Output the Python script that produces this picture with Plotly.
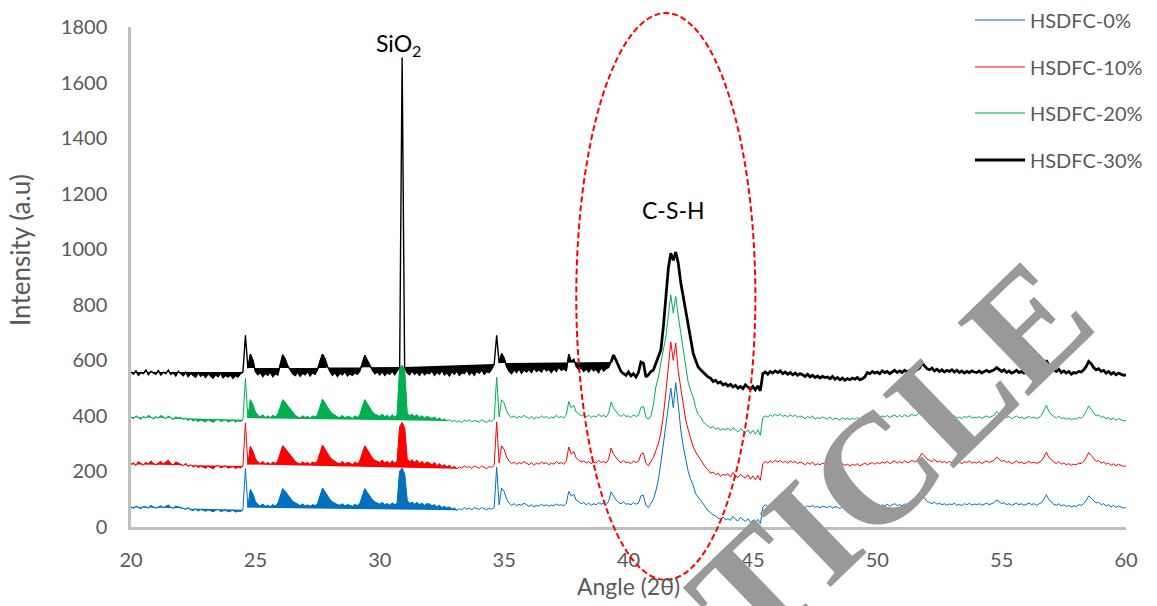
import numpy as np
import plotly.graph_objects as go

# 2-theta sampling grid (0.1 degree step)
angle = np.round(np.linspace(20, 60, 401), 1)

hsdfc_0 = [
    72, 68, 75, 70, 66, 74, 71, 69, 77, 73,
    68, 72, 76, 70, 74, 79, 71, 68, 75, 72,
    70, 66, 64, 69, 62, 60, 65, 58, 63, 61,
    57, 62, 59, 55, 60, 64, 56, 58, 61, 55,
    57, 60, 54, 58, 56, 62, 210, 70, 135, 118,
    92, 80, 76, 82, 74, 78, 73, 80, 76, 84,
    110, 138, 128, 118, 104, 92, 86, 80, 77, 82,
    76, 79, 74, 80, 77, 83, 112, 140, 126, 110,
    98, 90, 84, 80, 78, 83, 76, 80, 78, 74,
    81, 77, 84, 108, 138, 124, 110, 98, 90, 86,
    82, 88, 80, 84, 78, 86, 80, 84, 200, 212,
    190, 96, 84, 90, 82, 88, 80, 86, 78, 84,
    82, 76, 80, 72, 78, 70, 74, 68, 72, 64,
    68, 60, 66, 62, 70, 64, 68, 62, 70, 66,
    64, 70, 66, 62, 68, 64, 70, 215, 80, 140,
    128, 100, 86, 78, 84, 76, 82, 78, 86, 80,
    74, 80, 72, 78, 75, 82, 76, 80, 74, 79,
    76, 83, 78, 80, 76, 86, 128, 112, 118, 96,
    92, 84, 88, 80, 86, 78, 84, 80, 88, 82,
    86, 80, 92, 126, 110, 98, 88, 84, 90, 82,
    84, 80, 88, 82, 86, 112, 114, 78, 70, 84,
    100, 130, 170, 230, 300, 380, 430, 500, 430, 520,
    440, 350, 290, 240, 200, 170, 150, 120, 110, 96,
    84, 70, 58, 52, 44, 40, 32, 28, 36, 26,
    30, 24, 38, 28, 22, 34, 26, 20, 30, 16,
    24, 14, 28, 12, 72, 80, 74, 82, 76, 84,
    78, 84, 76, 80, 74, 82, 77, 80, 73, 79,
    75, 70, 76, 72, 78, 71, 74, 69, 75, 72,
    70, 76, 68, 73, 71, 66, 74, 69, 72, 67,
    73, 70, 75, 68, 72, 76, 70, 74, 78, 72,
    78, 74, 80, 76, 82, 75, 79, 84, 77, 81,
    76, 83, 78, 80, 85, 79, 82, 96, 112, 104,
    92, 88, 84, 90, 82, 86, 80, 84, 78, 83,
    80, 86, 78, 82, 77, 84, 80, 85, 79, 83,
    80, 84, 78, 82, 86, 80, 84, 88, 98, 90,
    84, 88, 80, 84, 78, 82, 86, 80, 84, 78,
    82, 86, 80, 84, 78, 82, 88, 100, 116, 98,
    88, 82, 78, 84, 76, 80, 74, 78, 72, 76,
    74, 80, 78, 84, 96, 112, 104, 94, 86, 90,
    80, 84, 76, 80, 72, 78, 70, 76, 72, 68,
    70,
]

hsdfc_10 = [
    226, 230, 222, 235, 228, 224, 232, 226, 238, 229,
    224, 231, 236, 227, 233, 240, 228, 223, 234, 230,
    226, 221, 229, 218, 224, 216, 222, 214, 220, 217,
    212, 219, 215, 210, 218, 222, 213, 216, 220, 212,
    214, 218, 211, 216, 213, 220, 375, 225, 290, 272,
    246, 234, 228, 236, 226, 232, 225, 234, 228, 238,
    264, 292, 282, 270, 256, 244, 236, 230, 226, 234,
    228, 232, 225, 234, 229, 238, 266, 294, 280, 262,
    250, 242, 236, 230, 228, 236, 226, 232, 230, 224,
    234, 228, 238, 262, 292, 278, 262, 248, 240, 236,
    232, 240, 230, 236, 228, 238, 230, 236, 360, 376,
    356, 246, 234, 242, 232, 240, 228, 236, 226, 234,
    230, 224, 232, 220, 228, 218, 224, 216, 222, 212,
    218, 210, 216, 212, 220, 214, 218, 210, 220, 216,
    212, 220, 216, 210, 218, 214, 222, 378, 230, 292,
    280, 252, 236, 228, 234, 226, 232, 228, 236, 230,
    224, 232, 222, 230, 226, 234, 228, 232, 224, 230,
    226, 236, 228, 232, 226, 238, 288, 262, 272, 248,
    242, 234, 238, 230, 236, 228, 234, 230, 240, 232,
    236, 230, 244, 284, 262, 248, 238, 232, 240, 232,
    234, 228, 238, 232, 236, 262, 266, 230, 220, 236,
    250, 275, 300, 338, 400, 482, 580, 666, 600, 662,
    560, 504, 440, 385, 350, 320, 288, 270, 255, 241,
    226, 214, 206, 194, 198, 188, 194, 182, 190, 186,
    192, 180, 196, 184, 178, 190, 182, 176, 188, 172,
    184, 170, 186, 168, 228, 236, 230, 238, 232, 240,
    234, 240, 232, 236, 230, 238, 232, 236, 228, 234,
    230, 224, 232, 226, 234, 222, 228, 224, 230, 226,
    222, 230, 220, 226, 224, 218, 228, 222, 226, 220,
    226, 222, 228, 220, 226, 230, 224, 228, 232, 226,
    232, 228, 234, 230, 236, 228, 232, 238, 230, 236,
    230, 238, 232, 234, 240, 234, 238, 250, 266, 256,
    244, 240, 236, 244, 234, 238, 232, 236, 230, 236,
    232, 238, 230, 234, 228, 236, 232, 238, 230, 234,
    230, 236, 228, 234, 238, 232, 236, 240, 252, 242,
    236, 240, 232, 236, 228, 232, 238, 230, 234, 228,
    232, 236, 230, 234, 228, 232, 238, 252, 270, 250,
    240, 234, 228, 236, 226, 230, 224, 228, 222, 226,
    224, 230, 228, 236, 250, 268, 258, 246, 236, 240,
    230, 234, 226, 230, 222, 228, 220, 226, 222, 218,
    220,
]

hsdfc_20 = [
    396, 390, 400, 393, 388, 398, 392, 402, 394, 389,
    397, 392, 401, 395, 390, 399, 393, 388, 396, 392,
    394, 388, 391, 384, 389, 382, 387, 380, 385, 383,
    379, 386, 381, 377, 384, 388, 380, 383, 386, 378,
    381, 385, 378, 383, 380, 386, 535, 392, 458, 440,
    414, 402, 396, 404, 394, 400, 393, 402, 396, 406,
    430, 458, 448, 436, 422, 410, 402, 396, 392, 400,
    394, 398, 391, 400, 395, 404, 432, 460, 446, 428,
    416, 408, 402, 396, 394, 402, 392, 398, 396, 390,
    400, 394, 404, 428, 458, 444, 428, 414, 406, 402,
    398, 406, 396, 402, 394, 404, 396, 402, 570, 582,
    566, 410, 400, 406, 398, 404, 394, 400, 392, 398,
    394, 390, 396, 386, 392, 384, 388, 382, 386, 380,
    384, 378, 382, 376, 384, 380, 386, 378, 384, 380,
    378, 386, 380, 376, 384, 380, 388, 540, 396, 458,
    446, 418, 402, 394, 400, 392, 398, 394, 402, 396,
    390, 398, 388, 396, 392, 400, 394, 398, 390, 396,
    392, 402, 394, 398, 392, 404, 452, 428, 438, 414,
    408, 400, 404, 396, 402, 394, 400, 396, 406, 398,
    402, 396, 410, 450, 428, 414, 404, 398, 406, 398,
    400, 394, 404, 398, 402, 430, 434, 396, 388, 400,
    440, 504, 540, 590, 640, 684, 760, 835, 770, 830,
    760, 698, 630, 565, 520, 490, 468, 430, 405, 396,
    380, 370, 364, 356, 362, 352, 358, 348, 354, 350,
    356, 346, 358, 348, 342, 354, 346, 340, 350, 336,
    348, 334, 350, 330, 394, 400, 396, 404, 398, 406,
    400, 406, 398, 402, 396, 404, 398, 402, 394, 400,
    396, 390, 398, 392, 400, 388, 394, 390, 396, 392,
    388, 396, 386, 392, 390, 384, 394, 388, 392, 386,
    392, 388, 394, 386, 392, 398, 390, 394, 398, 392,
    398, 394, 400, 396, 402, 394, 398, 404, 396, 402,
    396, 404, 398, 400, 406, 400, 404, 414, 430, 420,
    408, 404, 398, 406, 396, 400, 394, 398, 392, 398,
    394, 400, 392, 396, 390, 398, 394, 400, 392, 396,
    392, 398, 390, 396, 400, 394, 398, 402, 416, 406,
    398, 404, 394, 398, 390, 394, 400, 392, 396, 390,
    394, 398, 392, 396, 390, 394, 402, 418, 438, 416,
    404, 398, 392, 400, 390, 394, 388, 392, 386, 390,
    388, 394, 392, 400, 416, 436, 424, 410, 400, 404,
    394, 398, 390, 394, 386, 392, 384, 390, 386, 382,
    384,
]

hsdfc_30 = [
    558, 550, 562, 546, 556, 552, 566, 548, 560, 554,
    550, 563, 547, 557, 552, 565, 549, 556, 544, 560,
    552, 545, 558, 541, 553, 547, 539, 556, 543, 550,
    538, 552, 544, 536, 549, 541, 555, 537, 546, 540,
    548, 535, 546, 540, 552, 558, 690, 572, 622, 600,
    560, 548, 556, 542, 553, 546, 558, 541, 552, 547,
    585, 620, 604, 580, 566, 552, 545, 558, 543, 554,
    548, 560, 544, 556, 550, 566, 598, 622, 606, 578,
    560, 546, 556, 542, 554, 548, 560, 544, 552, 546,
    556, 550, 562, 592, 618, 600, 580, 566, 552, 558,
    548, 560, 546, 556, 550, 562, 548, 560, 576, 1690,
    576, 556, 548, 562, 550, 558, 546, 560, 548, 556,
    552, 562, 546, 558, 550, 564, 548, 556, 544, 560,
    550, 562, 546, 556, 552, 566, 548, 558, 546, 562,
    554, 566, 550, 560, 556, 568, 587, 690, 590, 624,
    608, 578, 560, 552, 566, 556, 570, 554, 566, 558,
    568, 556, 572, 560, 566, 558, 574, 562, 568, 556,
    570, 560, 576, 564, 570, 562, 622, 596, 604, 578,
    566, 574, 560, 570, 558, 572, 562, 568, 556, 574,
    562, 570, 574, 594, 619, 600, 578, 560, 552, 546,
    558, 544, 552, 540, 556, 594, 590, 540, 548, 560,
    565, 590, 610, 637, 720, 829, 930, 986, 960, 990,
    950, 880, 829, 770, 720, 670, 626, 600, 576, 566,
    556, 548, 540, 536, 524, 528, 518, 522, 511, 516,
    508, 514, 504, 510, 500, 506, 498, 512, 502, 496,
    506, 494, 508, 490, 552, 558, 550, 560, 554, 562,
    556, 562, 552, 558, 550, 556, 548, 554, 546, 552,
    548, 542, 550, 540, 546, 538, 544, 536, 542, 538,
    540, 534, 542, 532, 538, 530, 536, 528, 534, 530,
    536, 532, 538, 530, 534, 540, 556, 552, 560, 554,
    558, 552, 562, 556, 560, 552, 558, 564, 556, 562,
    556, 564, 558, 562, 568, 560, 566, 572, 590, 578,
    570, 566, 572, 562, 568, 560, 566, 558, 564, 560,
    566, 558, 564, 556, 562, 554, 560, 556, 562, 558,
    556, 562, 554, 560, 564, 558, 562, 566, 574, 566,
    560, 566, 556, 562, 554, 558, 564, 556, 560, 554,
    558, 562, 556, 560, 554, 560, 566, 578, 600, 582,
    572, 566, 560, 568, 556, 562, 554, 560, 550, 556,
    554, 560, 558, 566, 578, 596, 588, 574, 566, 570,
    560, 564, 554, 560, 550, 556, 548, 554, 550, 546,
    548,
]

series_names = ["HSDFC-0%", "HSDFC-10%", "HSDFC-20%", "HSDFC-30%"]
series_values = [hsdfc_0, hsdfc_10, hsdfc_20, hsdfc_30]
series_colors = ["#0070C0", "#FF0000", "#00B050", "#000000"]
legend_line_colors = ["#5B9BD5", "#FF5050", "#4CC47F", "#000000"]
legend_line_widths = [1.5, 1.5, 1.5, 3]
# angular spans rendered as filled polygons (closed along their chord)
fill_spans = [
    [(20.0, 24.5), (24.7, 33.1)],
    [(20.0, 24.5), (24.7, 33.1)],
    [(20.0, 24.5), (24.7, 32.7)],
    [(20.0, 24.5), (24.7, 30.8), (31.0, 34.6), (34.8, 39.3)],
]
thick_from = 39.3  # the 30% pattern is drawn heavier from here on

fig = go.Figure()

for name, vals, color, spans in zip(series_names, series_values, series_colors, fill_spans):
    y = np.asarray(vals, dtype=float)
    assert len(y) == len(angle), (name, len(y))
    for a, b in spans:
        m = (angle >= a - 1e-9) & (angle <= b + 1e-9)
        fig.add_trace(go.Scatter(
            x=angle[m], y=y[m], mode="lines", fill="toself",
            fillcolor=color, line=dict(color=color, width=0.8),
            showlegend=False, hoverinfo="skip",
        ))
    if color == "#000000":
        m1 = angle <= thick_from + 1e-9
        m2 = angle >= thick_from - 1e-9
        fig.add_trace(go.Scatter(
            x=angle[m1], y=y[m1], mode="lines", name=name,
            line=dict(color=color, width=1.4), showlegend=False,
        ))
        fig.add_trace(go.Scatter(
            x=angle[m2], y=y[m2], mode="lines", name=name,
            line=dict(color=color, width=2.75), showlegend=False,
        ))
    else:
        fig.add_trace(go.Scatter(
            x=angle, y=y, mode="lines", name=name,
            line=dict(color=color, width=1), showlegend=False,
        ))

# plot-area geometry in pixels (used to place the key and titles)
W, H = 1157, 606
ML, MR, MT, MB = 131, 31, 27, 79
PW, PH = W - ML - MR, H - MT - MB


def px_to_paper(px, py):
    return (px - ML) / PW, (H - MB - py) / PH


# key: short line + label per series, stacked at the top right
key_line_x = (975, 1025)
key_text_x = 1028
key_rows_y = [20, 67, 113, 160]
for name, col, lw, ry in zip(series_names, legend_line_colors, legend_line_widths, key_rows_y):
    (xa, ya), (xb, _) = px_to_paper(key_line_x[0], ry), px_to_paper(key_line_x[1], ry)
    fig.add_shape(type="line", xref="paper", yref="paper", x0=xa, x1=xb, y0=ya, y1=ya,
                  line=dict(color=col, width=lw))
    tx, ty = px_to_paper(key_text_x, ry)
    fig.add_annotation(xref="paper", yref="paper", x=tx, y=ty, text=name,
                       showarrow=False, xanchor="left", yanchor="middle",
                       font=dict(family="Lato", size=20, color="#595959"))

# dashed ellipse around the C-S-H reflection (data units -> paper)
x_min, x_max, y_min, y_max = 20, 60, 0, 1800
csh_box = dict(a0=37.9, a1=45.1, i0=-190, i1=1850)
fig.add_shape(
    type="circle", xref="paper", yref="paper",
    x0=(csh_box["a0"] - x_min) / (x_max - x_min),
    x1=(csh_box["a1"] - x_min) / (x_max - x_min),
    y0=(csh_box["i0"] - y_min) / (y_max - y_min),
    y1=(csh_box["i1"] - y_min) / (y_max - y_min),
    line=dict(color="#FF0000", width=2, dash="6px,3px"),
)

fig.add_annotation(x=30.75, y=1738, text="SiO<sub>2</sub>", showarrow=False,
                   xanchor="center", yanchor="middle",
                   font=dict(family="Lato", size=23, color="#000000"))
fig.add_annotation(x=41.8, y=1141, text="C-S-H", showarrow=False,
                   xanchor="center", yanchor="middle",
                   font=dict(family="Lato", size=23, color="#000000"))

# y-axis title
tx, ty = px_to_paper(20, 250)
fig.add_annotation(xref="paper", yref="paper", x=tx, y=ty, text="Intensity (a.u)",
                   showarrow=False, textangle=-90, xanchor="center", yanchor="middle",
                   font=dict(family="Lato", size=26, color="#595959"))

# watermark
wx, wy = px_to_paper(890, 456)
fig.add_annotation(xref="paper", yref="paper", x=wx, y=wy, text="TICLE",
                   showarrow=False, textangle=-44, xanchor="center", yanchor="middle",
                   font=dict(family="Liberation Serif", size=156, color="#999999",
                             weight="bold"))

fig.update_layout(
    width=W, height=H,
    margin=dict(l=ML, r=MR, t=MT, b=MB, autoexpand=False),
    paper_bgcolor="white", plot_bgcolor="white",
    font=dict(family="Lato", size=20, color="#595959"),
    showlegend=False,
    xaxis=dict(range=[x_min, x_max], tickvals=list(range(20, 61, 5)),
               showline=True, linecolor="#BFBFBF", linewidth=2.5,
               showgrid=False, zeroline=False, ticks="",
               ticklabelstandoff=13, tickfont=dict(size=20),
               title=dict(text="Angle (2θ)", font=dict(size=23, color="#595959"),
                          standoff=10)),
    yaxis=dict(range=[y_min, y_max], tickvals=list(range(0, 1801, 200)),
               showline=True, linecolor="#BFBFBF", linewidth=2.5,
               showgrid=False, zeroline=False, ticks="",
               ticklabelstandoff=17, tickfont=dict(size=20)),
)

fig.write_html("out.html")
